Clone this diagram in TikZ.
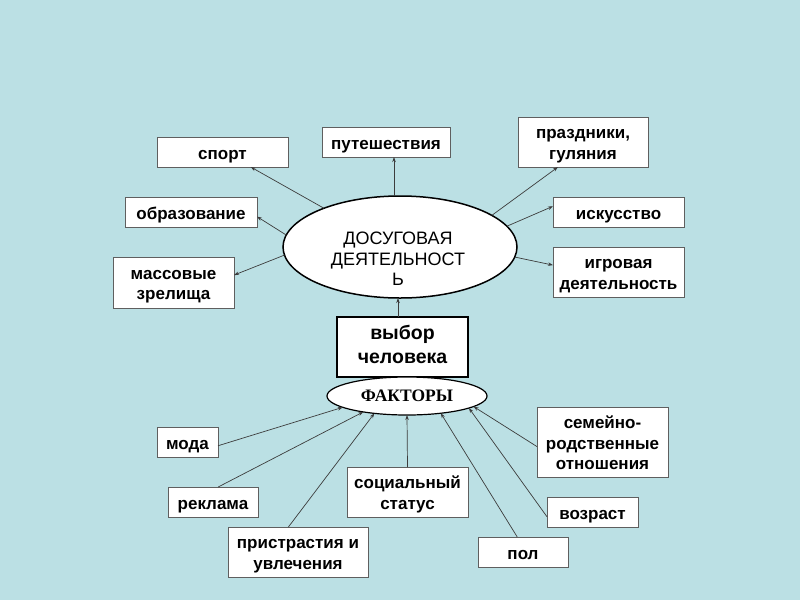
\documentclass[tikz,border=0pt]{standalone}
\usepackage{fontspec}
\setmainfont{Liberation Sans}
\newfontfamily\serifb{Liberation Serif}
\usetikzlibrary{shapes.geometric,arrows.meta}
\definecolor{bg}{RGB}{187,224,228}
\definecolor{boxgray}{RGB}{95,95,95}
\definecolor{linegray}{RGB}{60,60,60}
\newcommand{\mytab}[1]{\raisebox{-3pt}[\height][\depth]{\begin{tabular}{@{}c@{}}#1\end{tabular}}}
\newcommand{\mytabz}[1]{\begin{tabular}{@{}c@{}}#1\end{tabular}}
\begin{document}
\begin{tikzpicture}[x=1pt,y=-1pt,
  box/.style={draw=boxgray, line width=0.9pt, fill=white, inner sep=0pt, outer sep=0pt,
    font=\fontsize{17}{20.5}\selectfont\bfseries},
  arr/.style={draw=linegray, line width=0.7pt, -{Stealth[length=5pt,width=3.5pt]}},
  oval/.style={draw=black, ellipse, fill=white, inner sep=0pt, outer sep=0pt}]
\fill[bg] (0,0) rectangle (800,600);
\useasboundingbox (0,0) rectangle (800,600);

% top part
\node[oval, line width=1.5pt, minimum width=234pt, minimum height=102pt] (dos) at (400,247) {};
\node[font=\fontsize{18}{20.5}\selectfont] (dostext) at (398,261) {\mytabz{ДОСУГОВАЯ\\ДЕЯТЕЛЬНОСТ\\Ь}};

\node[box, minimum width=131pt, minimum height=30pt] (sport) at (222.5,152) {\mytab{спорт}};
\node[box, minimum width=128pt, minimum height=30pt] (travel) at (386,142) {\mytab{путешествия}};
\node[box, minimum width=130pt, minimum height=50pt] (holiday) at (583,142) {\mytab{праздники,\\гуляния}};
\node[box, minimum width=132pt, minimum height=30pt] (edu) at (191,212) {\mytab{образование}};
\node[box, minimum width=131pt, minimum height=30pt] (art) at (618.5,212) {\mytab{искусство}};
\node[box, minimum width=121pt, minimum height=51pt] (mass) at (173.5,282.5) {\mytab{массовые\\зрелища}};
\node[box, minimum width=131pt, minimum height=50pt] (game) at (618.5,272) {\mytab{игровая\\деятельность}};

\draw[arr] (dos.153) -- (sport.-28.6);
\draw[arr] ([xshift=-6pt]dos.north) -- ([xshift=8pt]travel.south);
\draw[arr] (dos.19) -- (holiday.-135);
\draw[arr] (dos.174.5) -- (edu.-4.2);
\draw[arr] (dos.11.3) -- (art.175.6);
\draw[arr] (dos.184.4) -- (mass.7);
\draw[arr] (dos.-5) -- (game.174.8);

% middle
\node[box, draw=black, line width=2.2pt, minimum width=131pt, minimum height=60pt,
  font=\fontsize{19.5}{24}\selectfont\bfseries] (choice) at (402.5,347) {\mytabz{выбор\\человека}};
\draw[arr] ([xshift=-4.5pt]choice.north) -- ([xshift=-2pt]dos.south);

\node[oval, line width=1.2pt, minimum width=160pt, minimum height=38pt,
  font=\serifb\fontsize{17.5}{20}\selectfont\bfseries] (factors) at (407,396) {ФАКТОРЫ};

% bottom
\node[box, minimum width=61pt, minimum height=30pt] (moda) at (187.5,442) {\mytab{мода}};
\node[box, minimum width=90pt, minimum height=30pt] (ad) at (213,502) {\mytab{реклама}};
\node[box, minimum width=140pt, minimum height=50pt] (pass) at (298,552) {\mytab{пристрастия и\\увлечения}};
\node[box, minimum width=121pt, minimum height=50pt] (soc) at (407.5,492) {\mytab{социальный\\статус}};
\node[box, minimum width=90pt, minimum height=30pt] (pol) at (523,552) {\mytab{пол}};
\node[box, minimum width=91pt, minimum height=30pt] (age) at (592.5,512) {\mytab{возраст}};
\node[box, minimum width=131pt, minimum height=70pt] (fam) at (602.5,442) {\mytab{семейно-\\родственные\\отношения}};

\draw[arr] (moda.-7.5) -- (factors.190.5);
\draw[arr] (ad.71.6) -- (factors.200.1);
\draw[arr] (pass.111.8) -- (factors.208.3);
\draw[arr] (soc.north) -- (factors.south);
\draw[arr] (pol.111.8) -- (factors.-27.6);
\draw[arr] (age.186.3) -- (factors.-11.8);
\draw[arr] (fam.184.4) -- (factors.-9.5);
\end{tikzpicture}
\end{document}
